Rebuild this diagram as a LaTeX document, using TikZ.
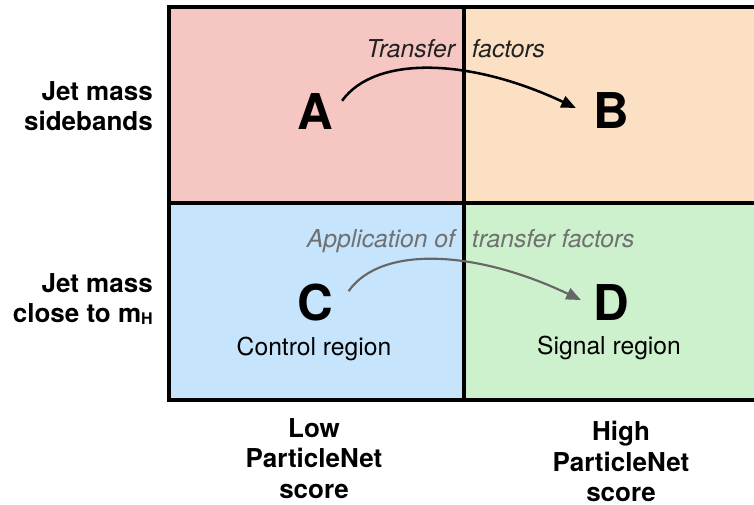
\documentclass[tikz,border=0pt]{standalone}
\usepackage{fontspec}
\setmainfont{TeX Gyre Heros}
\usetikzlibrary{arrows.meta}
\definecolor{cellA}{HTML}{F6C6C3}
\definecolor{cellB}{HTML}{FCE0C3}
\definecolor{cellC}{HTML}{C6E4FB}
\definecolor{cellD}{HTML}{CDF1CD}
\definecolor{arrowgrey}{HTML}{666666}
\definecolor{notegrey}{HTML}{707070}
\definecolor{notedark}{HTML}{222222}

\begin{document}
\begin{tikzpicture}[x=0.75pt,y=-0.75pt,
  letter/.style={font=\fontsize{37}{37}\selectfont\bfseries, inner sep=0pt, anchor=base},
  note/.style={font=\fontsize{18.5}{22}\selectfont\itshape, inner sep=0pt, anchor=base},
  region/.style={font=\fontsize{18.5}{22}\selectfont, inner sep=0pt, anchor=base},
  axislabel/.style={font=\fontsize{19.5}{23}\selectfont\bfseries, inner sep=0pt},
  flow/.style={line width=1.9pt, -{Triangle[length=11pt,width=9pt]}},
  gridline/.style={line width=3pt}]
\clip (0,0) rectangle (754,505);
\fill[white] (0,0) rectangle (754,505);

% four regions of the ABCD plane
\fill[cellA] (169,7) rectangle (463.5,203.5);
\fill[cellB] (463.5,7) rectangle (780,203.5);
\fill[cellC] (169,203.5) rectangle (463.5,400);
\fill[cellD] (463.5,203.5) rectangle (780,400);
\draw[gridline] (780,7) -- (169,7) -- (169,400) -- (780,400);
\draw[gridline] (463.5,7) -- (463.5,400);
\draw[gridline] (169,203.5) -- (780,203.5);

% region letters
\node[letter] (A) at (315,130) {A};
\node[letter] (B) at (611,129) {B};
\node[letter] (C) at (315.5,321) {C};
\node[letter] (D) at (611,321) {D};

\node[region] (cr) at (314,356) {Control region};
\node[region] (sr) at (609,355) {Signal region};

% transfer factor notes, split around the divider
\node[note, text=notedark] (tf) at (463.5,58)
  {\makebox[0pt][r]{Transfer}\hspace{12.75pt}\makebox[0pt][l]{factors}};
\node[note, text=notegrey] (atf) at (463.5,248)
  {\makebox[0pt][r]{Application of}\hspace{12.75pt}\makebox[0pt][l]{transfer factors}};

% arrows
\draw[flow] ([shift={(9,7)}]A.north east)
  .. controls (375,55) and (470,58) .. ([shift={(-17,-3)}]B.west);
\draw[flow, arrowgrey, line width=1.6pt] ([shift={(15,7)}]C.north east)
  .. controls (381,245) and (476,250) .. ([shift={(-12,-3)}]D.west);

% axis labels
\node[axislabel, align=right, anchor=north east] (ys) at (153,81)
  {Jet mass\\sidebands};
\node[axislabel, align=right, anchor=north east] (yh) at (153,273)
  {Jet mass\\close to m{\fontsize{12}{12}\selectfont\raisebox{-1.5pt}{H}}};
\node[axislabel, align=center, anchor=north] (xl) at (314,418)
  {Low\\ParticleNet\\score};
\node[axislabel, align=center, anchor=north] (xh) at (621,421)
  {High\\ParticleNet\\score};
\end{tikzpicture}
\end{document}
